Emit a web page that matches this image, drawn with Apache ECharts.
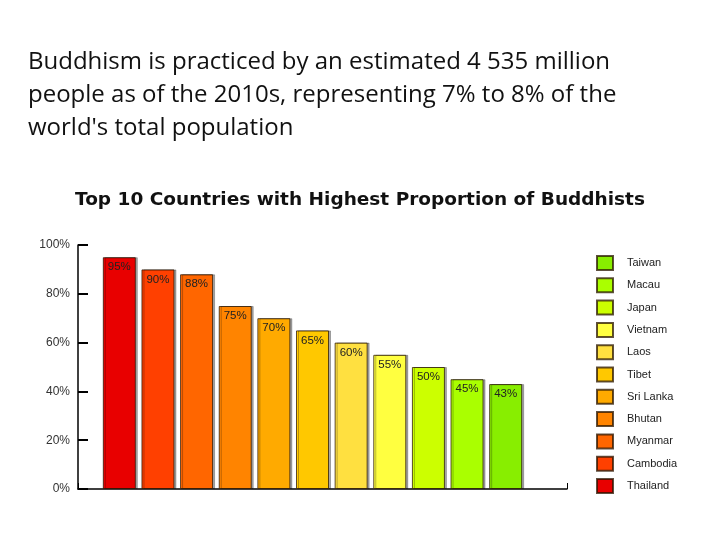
<!DOCTYPE html>
<html>
<head>
<meta charset="utf-8">
<script src="https://cdn.jsdelivr.net/npm/echarts@6/dist/echarts.min.js"></script>
<style>html,body{margin:0;padding:0;background:#fff}#c{width:720px;height:540px}</style>
</head>
<body>
<div id="c"></div>
<script>
const countries = ['Thailand','Cambodia','Myanmar','Bhutan','Sri Lanka','Tibet','Laos','Vietnam','Japan','Macau','Taiwan'];
const percents = [95, 90, 88, 75, 70, 65, 60, 55, 50, 45, 43];
const colors = ['#e80000','#ff4000','#ff6600','#ff8400','#ffaa00','#ffc800','#ffe040','#ffff40','#ccff00','#aaff00','#88ee00'];
const yTicks = [0, 20, 40, 60, 80, 100];

const chart = echarts.init(document.getElementById('c'));
const series = countries.map((name, i) => ({
  name: name,
  type: 'bar',
  xAxisIndex: 0,
  yAxisIndex: 0,
  barWidth: 33,
  barGap: '-100%',
  data: countries.map((_, j) => j === i ? percents[i] : null),
  itemStyle: {
    color: colors[i],
    borderColor: 'rgba(40,20,0,0.75)',
    borderWidth: 1,
    shadowColor: 'rgba(0,0,0,0.35)',
    shadowOffsetX: 2,
    shadowOffsetY: 0,
    shadowBlur: 0
  },
  label: {
    show: true,
    position: 'insideTop',
    distance: 4,
    formatter: p => p.value + '%',
    fontFamily: 'Liberation Sans',
    fontSize: 11.5,
    color: '#222'
  },
  animation: false
}));

chart.setOption({
  animation: false,
  title: [
    {
      text: 'Buddhism is practiced by an estimated 4 535 million\npeople as of the 2010s, representing 7% to 8% of the\nworld\'s total population',
      left: 28,
      top: 46,
      padding: 0,
      textStyle: { fontFamily: 'Open Sans', fontWeight: 'normal', fontSize: 24, lineHeight: 33, color: '#111' }
    },
    {
      text: 'Top 10 Countries with Highest Proportion of Buddhists',
      left: 75,
      top: 191,
      padding: 0,
      textStyle: { fontFamily: 'DejaVu Sans', fontWeight: 'bold', fontSize: 18.5, color: '#111' }
    }
  ],
  legend: {
    orient: 'vertical',
    left: 591,
    top: 250,
    itemWidth: 16,
    itemHeight: 14,
    itemGap: 6.3,
    icon: 'rect',
    data: countries.slice().reverse(),
    textStyle: { fontFamily: 'Liberation Sans', fontSize: 11, color: '#222', padding: [0, 0, 0, 9] },
    selectedMode: false
  },
  grid: [
    { left: 100, right: 195, top: 245, bottom: 51 },
    { left: 78, right: 153, top: 245, bottom: 51 }
  ],
  xAxis: [
    { type: 'category', gridIndex: 0, data: countries, show: false },
    { type: 'value', gridIndex: 1, min: 0, max: 1, interval: 1,
      axisLine: { show: true, lineStyle: { color: '#000', width: 1.5 } },
      axisTick: { show: true, inside: true, length: 6, lineStyle: { color: '#000', width: 1 } },
      axisLabel: { show: false }, splitLine: { show: false } }
  ],
  yAxis: [
    { type: 'value', gridIndex: 0, min: 0, max: 100, show: false },
    { type: 'value', gridIndex: 1, min: yTicks[0], max: yTicks[yTicks.length - 1], interval: 20,
      axisLine: { show: true, lineStyle: { color: '#000', width: 1.5 } },
      axisTick: { show: true, inside: true, length: 10, lineStyle: { color: '#000', width: 2 } },
      axisLabel: { formatter: '{value}%', fontFamily: 'Liberation Sans', fontSize: 12, color: '#333', margin: 8 },
      splitLine: { show: false } }
  ],
  series: series
});
</script>
</body>
</html>
